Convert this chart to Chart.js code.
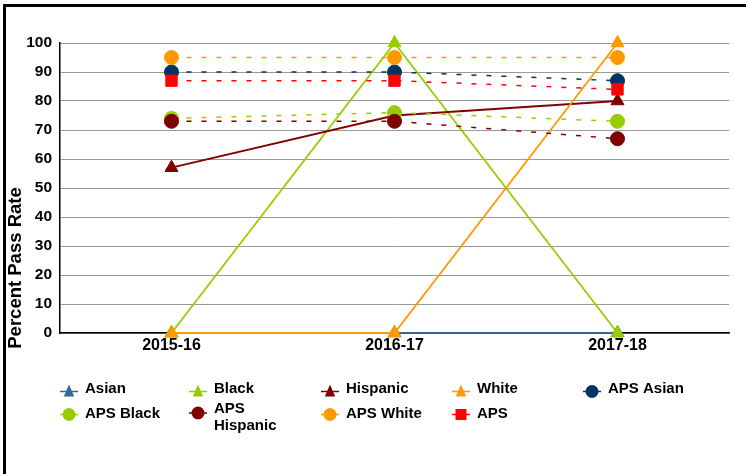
<!DOCTYPE html>
<html><head><meta charset="utf-8">
<script src="https://cdn.jsdelivr.net/npm/chart.js@4.4.0/dist/chart.umd.min.js"></script>
<style>
html,body{margin:0;padding:0;background:#fff;overflow:hidden;}
#wrap{position:relative;width:746px;height:474px;overflow:hidden;}
#frame{position:absolute;left:3px;top:4px;width:800px;height:600px;border:3px solid #000;box-sizing:border-box;}
canvas{position:absolute;left:0;top:0;}
</style></head><body>
<div id="wrap"><div id="frame"></div><canvas id="c" width="746" height="474"></canvas></div>
<script>
// ---- data ----
const categories = ['2015-16', '2016-17', '2017-18'];
const asian       = [0, 0, 0];
const black       = [0, 100, 0];
const hispanic    = [57, 75, 80];
const white       = [0, 0, 100];
const apsAsian    = [90, 90, 87];
const apsBlack    = [74, 76, 73];
const apsHispanic = [73, 73, 67];
const apsWhite    = [95, 95, 95];
const aps         = [87, 87, 84];
const yMin = 0, yMax = 100, yStep = 10;
const yTitle = 'Percent Pass Rate';

// ---- styles ----
const FONT = "'Liberation Sans', Arial, sans-serif";
function ds(label, data, color, style, dashed, radius, order) {
  return {
    label, data, order,
    borderColor: color, backgroundColor: color,
    pointBackgroundColor: color, pointBorderColor: color,
    pointStyle: style, pointRadius: radius, pointHoverRadius: radius,
    pointBorderWidth: 1,
    borderWidth: dashed ? 1.5 : 1.8,
    borderDash: dashed ? [5, 10] : [],
    tension: 0, clip: false, fill: false
  };
}
const datasets = [
  ds('Asian', asian, '#336699', 'triangle', false, 7.5, 9),
  ds('Black', black, '#99cc00', 'triangle', false, 7.5, 8),
  ds('Hispanic', hispanic, '#800000', 'triangle', false, 7.5, 7),
  ds('White', white, '#ff9900', 'triangle', false, 7.5, 6),
  ds('APS Asian', apsAsian, '#003366', 'circle', true, 7, 5),
  ds('APS Black', apsBlack, '#99cc00', 'circle', true, 7, 4),
  ds('APS Hispanic', apsHispanic, '#800000', 'circle', true, 7, 3),
  ds('APS White', apsWhite, '#ff9900', 'circle', true, 7, 2),
  ds('APS', aps, '#ff0000', 'rect', true, 8, 1)
];

// legend layout (column, row, text lines)
const legendItems = [
  {i:0, col:0, row:0, lines:['Asian']},
  {i:1, col:1, row:0, lines:['Black']},
  {i:2, col:2, row:0, lines:['Hispanic']},
  {i:3, col:3, row:0, lines:['White']},
  {i:4, col:4, row:0, lines:['APS Asian']},
  {i:5, col:0, row:1, lines:['APS Black']},
  {i:6, col:1, row:1, lines:['APS', 'Hispanic']},
  {i:7, col:2, row:1, lines:['APS White']},
  {i:8, col:3, row:1, lines:['APS']}
];

function marker(ctx, style, x, y, r, color) {
  ctx.fillStyle = color;
  ctx.beginPath();
  if (style === 'triangle') {
    ctx.moveTo(x, y - r);
    ctx.lineTo(x + r * 0.75, y + r * 0.7);
    ctx.lineTo(x - r * 0.75, y + r * 0.7);
    ctx.closePath();
  } else if (style === 'circle') {
    ctx.arc(x, y, r, 0, Math.PI * 2);
  } else {
    ctx.rect(x - r, y - r, 2 * r, 2 * r);
  }
  ctx.fill();
}

const extras = {
  id: 'extras',
  afterDraw(chart) {
    const ctx = chart.ctx;
    ctx.save();
    // y axis title
    ctx.fillStyle = '#000';
    ctx.font = 'bold 18.5px ' + FONT;
    ctx.textAlign = 'center';
    ctx.textBaseline = 'middle';
    ctx.translate(16, 268);
    ctx.rotate(-Math.PI / 2);
    ctx.fillText(yTitle, 0, 0);
    ctx.restore();

    // legend
    ctx.save();
    const colX = [69, 198, 330, 461, 592];
    const rowMarkerY = [391.5, 414.5];
    const rowBase = [392.5, 418];
    ctx.font = 'bold 15px ' + FONT;
    ctx.textAlign = 'left';
    ctx.textBaseline = 'alphabetic';
    legendItems.forEach(it => {
      const d = chart.data.datasets[it.i];
      const cx = colX[it.col];
      const my = it.lines.length > 1 ? 413 : rowMarkerY[it.row];
      ctx.strokeStyle = d.borderColor;
      ctx.lineWidth = 1.5;
      ctx.beginPath();
      ctx.moveTo(cx - 9, my);
      ctx.lineTo(cx + 9, my);
      ctx.stroke();
      const st = d.pointStyle;
      marker(ctx, st, cx, my, st === 'triangle' ? 7 : (st === 'rect' ? 5.5 : 6.5), d.borderColor);
      ctx.fillStyle = '#000';
      if (it.lines.length > 1) {
        ctx.fillText(it.lines[0], cx + 16, 413);
        ctx.fillText(it.lines[1], cx + 16, 430);
      } else {
        ctx.fillText(it.lines[0], cx + 16, rowBase[it.row]);
      }
    });
    ctx.restore();
  }
};

new Chart(document.getElementById('c'), {
  type: 'line',
  data: { labels: categories, datasets },
  options: {
    responsive: false,
    animation: false,
    devicePixelRatio: 1,
    layout: { padding: { top: 43, right: 17, left: 0, bottom: 0 } },
    plugins: { legend: { display: false }, tooltip: { enabled: false } },
    scales: {
      x: {
        offset: true,
        grid: { display: false, drawTicks: false },
        border: { color: '#000', width: 1.5 },
        ticks: { color: '#000', padding: 3, font: { family: FONT, size: 16, weight: 'bold' } },
        afterFit(s) { s.height = 141; }
      },
      y: {
        min: yMin, max: yMax,
        ticks: { stepSize: yStep, color: '#000', padding: 8, font: { family: FONT, size: 15.5, weight: 'bold' } },
        grid: { color: '#9a9a9a', lineWidth: 1, drawTicks: false },
        border: { color: '#000', width: 1.5 },
        afterFit(s) { s.width = 60; }
      }
    }
  },
  plugins: [extras]
});
</script>
</body></html>
